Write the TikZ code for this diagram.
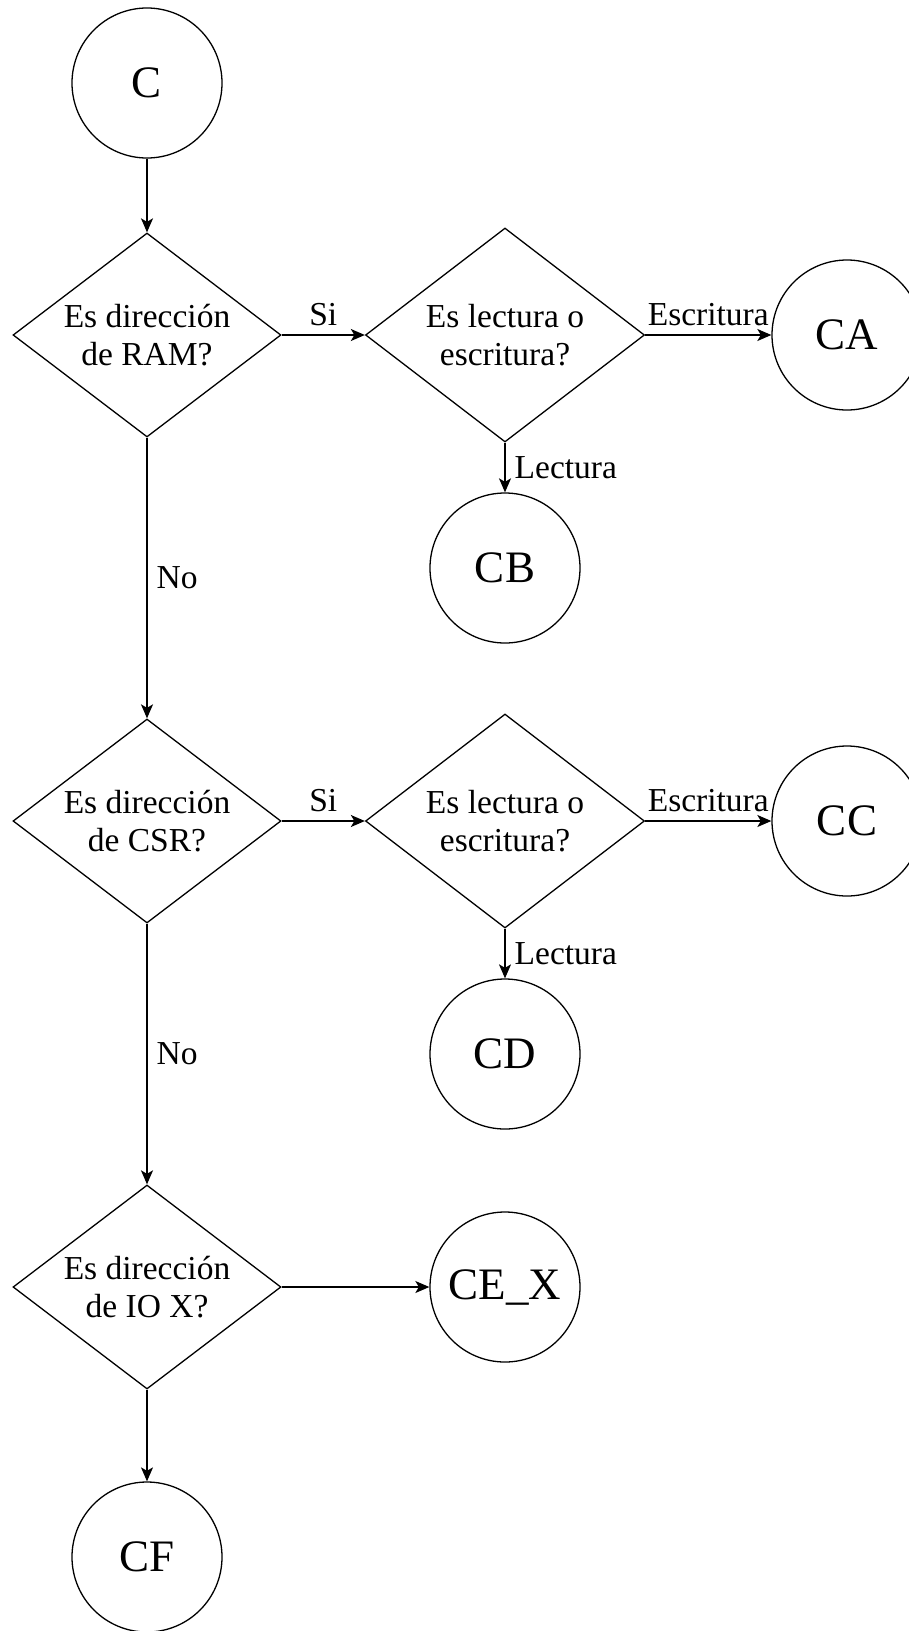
\documentclass[tikz,border=0pt]{standalone}
\usepackage{fontspec}
\setmainfont{Liberation Serif}
\usetikzlibrary{shapes.geometric,arrows.meta}
\begin{document}
\begin{tikzpicture}[x=1pt,y=-1pt,
  every node/.style={font=\fontsize{33.5}{38.5}\selectfont},
  decision/.style={draw, diamond, line width=1.3pt, inner sep=0pt, aspect=1.3,
    align=center, minimum width=268pt, minimum height=204pt},
  bigdecision/.style={decision, minimum width=279pt, minimum height=214pt},
  terminal/.style={draw, circle, line width=1.3pt, inner sep=0pt,
    minimum size=150pt, font=\fontsize{45}{50}\selectfont},
  flow/.style={line width=1.4pt, -{Stealth[length=14pt,width=12pt,inset=3.5pt]}},
  hlabel/.style={anchor=base, inner sep=0pt, yshift=10pt},
  vlabel/.style={anchor=west, inner sep=0pt, xshift=9pt}
]
% canvas
\useasboundingbox (0,0) rectangle (909,1631);
\fill[white] (0,0) rectangle (909,1631);

% left column: address checks
\node[terminal] (c)  at (147,83)   {C};
\node[decision] (d1) at (147,335)  {Es dirección\\de RAM?};
\node[decision] (d3) at (147,821)  {Es dirección\\de CSR?};
\node[decision] (d5) at (147,1287) {Es dirección\\de IO X?};
\node[terminal] (cf) at (147,1557) {CF};

% middle column: read / write checks
\node[bigdecision] (d2) at (505,335) {Es lectura o\\escritura?};
\node[terminal] (cb) at (505,568)  {CB};
\node[bigdecision] (d4) at (505,821) {Es lectura o\\escritura?};
\node[terminal] (cd) at (505,1054) {CD};
\node[terminal] (ce) at (505,1287) {CE\_X};

% right column: write targets
\node[terminal] (ca) at (847,335) {CA};
\node[terminal] (cc) at (847,821) {CC};

% connectors
\draw[flow] (c) -- (d1);
\draw[flow] (d1) -- node[hlabel] {Si} (d2);
\draw[flow] (d2) -- node[hlabel] {Escritura} (ca);
\draw[flow] (d2) -- node[vlabel] {Lectura} (cb);
\draw[flow] (d1) -- node[vlabel] {No} (d3);

\draw[flow] (d3) -- node[hlabel] {Si} (d4);
\draw[flow] (d4) -- node[hlabel] {Escritura} (cc);
\draw[flow] (d4) -- node[vlabel] {Lectura} (cd);
\draw[flow] (d3) -- node[vlabel] {No} (d5);

\draw[flow] (d5) -- (ce);
\draw[flow] (d5) -- (cf);
\end{tikzpicture}
\end{document}
